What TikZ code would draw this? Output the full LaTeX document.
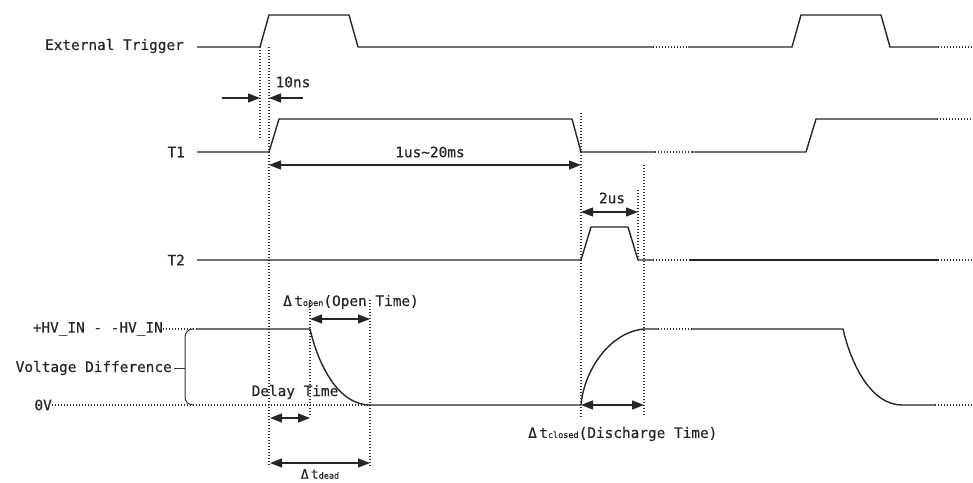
\documentclass[tikz,border=0pt]{standalone}
\usepackage{fontspec}
\newfontfamily\lblfont[FakeBold=0.5]{DejaVu Sans Mono}
\newcommand\subtxt[1]{{\fontsize{8.5}{10}\selectfont #1}}
\usetikzlibrary{arrows.meta}
\begin{document}
\begin{tikzpicture}[x=1pt,y=-1pt,
  sig/.style={line width=1.4pt, line join=round, draw=black!85},
  dots/.style={line width=1.2pt, dash pattern=on 1.2pt off 1.8pt, draw=black!80},
  dimb/.style={line width=1.3pt, draw=black!85, {Triangle[length=12pt,width=9pt]}-{Triangle[length=12pt,width=9pt]}},
  dima/.style={line width=1.3pt, draw=black!85, -{Triangle[length=12pt,width=9pt]}},
  lbl/.style={font=\lblfont\fontsize{14.4}{16}\selectfont, inner sep=0pt, text=black!85}
]
\useasboundingbox (0,0) rectangle (973,482);

% ---------- labels on the left
\node[lbl, anchor=east] (ext) at (184,46) {External Trigger};
\node[lbl, anchor=east] (t1) at (185,152) {T1};
\node[lbl, anchor=east] (t2) at (185,260) {T2};
\node[lbl, anchor=east] (hv) at (163,329) {+HV\_IN - -HV\_IN};
\node[lbl, anchor=east] (vd) at (172,368) {Voltage Difference};
\node[lbl, anchor=east] (ov) at (52,405) {0V};

% ---------- External trigger
\draw[sig] (197,47) -- (260,47) -- (269,15) -- (349,15) -- (358,47) -- (653,47);
\draw[dots] (653,47) -- (688,47);
\draw[sig] (688,47) -- (792,47) -- (801,15) -- (881,15) -- (890,47) -- (938,47);
\draw[dots] (938,47) -- (973,47);

% ---------- T1
\draw[sig] (197,152) -- (269,152) -- (279,119) -- (572,119) -- (581,152) -- (655,152);
\draw[dots] (655,152) -- (692,152);
\draw[sig] (692,152) -- (806,152) -- (816,119) -- (937,119);
\draw[dots] (937,119) -- (973,119);

% ---------- T2
\draw[sig] (197,260) -- (581,260) -- (591,227) -- (628,227) -- (638,260) -- (653,260);
\draw[dots] (653,260) -- (690,260);
\draw[sig] (690,260) -- (938,260);
\draw[dots] (938,260) -- (973,260);

% ---------- Voltage
\draw[dots] (hv.east) -- (197,329);
\draw[dots] (ov.east) -- (370,405);
\draw[sig] (197,329) -- (310,329) .. controls (318,364) and (338,405) .. (370,405) -- (581,405)
  .. controls (584,370) and (610,332) .. (644,329) -- (658,329);
\draw[dots] (658,329) -- (692,329);
\draw[sig] (692,329) -- (843,329) .. controls (851,364) and (871,405) .. (902,405) -- (935,405);
\draw[dots] (935,405) -- (973,405);

% bracket
\coordinate (vdt) at (185,368);
\draw[line width=1pt, draw=black!80] (193,329) to[out=180,in=90] (185,337) -- (185,397) to[out=-90,in=180] (193,405);
\draw[line width=1pt, draw=black!80] (vd.east) ++(2,0) -- (vdt);

% ---------- dotted guides
\draw[dots] (260,47) -- (260,138);
\draw[dots] (269,47) -- (269,467);
\draw[dots] (581,113) -- (581,417);
\draw[dots] (638,190) -- (638,260);
\draw[dots] (644,165) -- (644,415);
\draw[dots] (310,300) -- (310,415);
\draw[dots] (370,300) -- (370,467);

% ---------- dimension arrows
\coordinate (a10l) at (260,98);
\coordinate (a10r) at (269,98);
\draw[dima] (222,98) -- (a10l);
\draw[dima] (303,98) -- (a10r);
\node[lbl] (ns) at (293,82) {10ns};

\draw[dimb] (269,165) -- (581,165);
\node[lbl] (us20) at (430,152) {1us\textasciitilde 20ms};

\draw[dimb] (581,212) -- (638,212);
\node[lbl] (us2) at (612,198) {2us};

\draw[dimb] (310,319) -- (370,319);
\node[lbl, anchor=west] (open) at (283,302) {Δ\,t\subtxt{open}(Open Time)};

\draw[dimb] (270,418) -- (310,418);
\node[lbl] (delay) at (295,392) {Delay Time};

\draw[dimb] (270,463) -- (370,463);
\node[lbl, font=\lblfont\fontsize{13}{14}\selectfont] (dead) at (320,474) {Δ\,t\subtxt{dead}};

\draw[dimb] (581,405) -- (644,405);
\node[lbl, anchor=west] (closed) at (528,434) {Δ\,t\subtxt{closed}(Discharge Time)};
\end{tikzpicture}
\end{document}
